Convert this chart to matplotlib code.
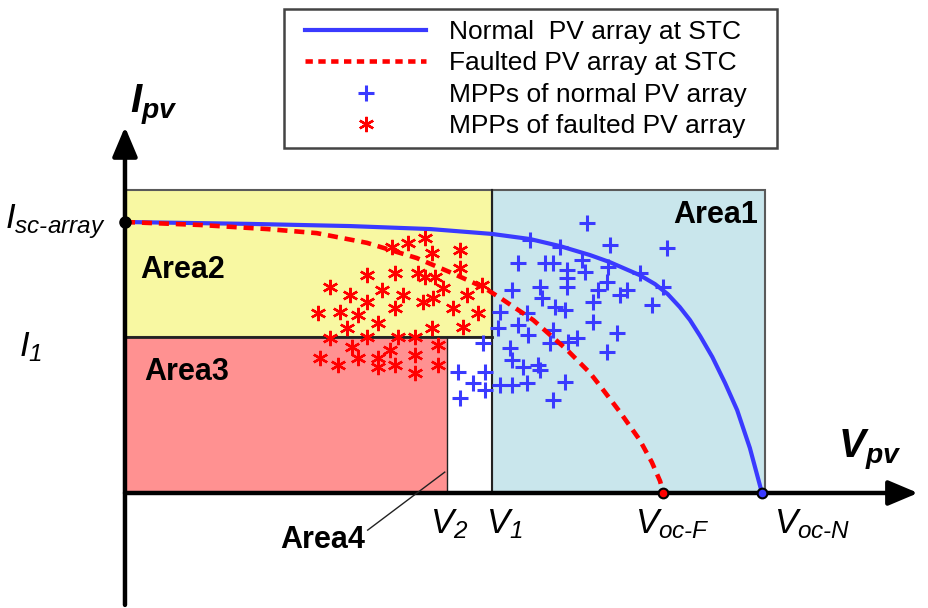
import matplotlib
matplotlib.use('Agg')
import matplotlib.pyplot as plt
from matplotlib.patches import Rectangle
from matplotlib.lines import Line2D

plt.rcParams['font.family'] = ['Liberation Sans', 'DejaVu Sans']
plt.rcParams['mathtext.fontset'] = 'custom'
plt.rcParams['mathtext.rm'] = 'Liberation Sans:italic'
plt.rcParams['mathtext.it'] = 'Liberation Sans:italic'
plt.rcParams['mathtext.bf'] = 'Liberation Sans:bold:italic'

# schematic units: V in % of Voc-N, I in % of Isc-array
v_normal = [0, 19.6, 35.3, 47.9, 57.6, 63.6, 68.3, 73.0, 76.1, 80.8, 83.2, 85.2, 87.1, 88.7,
            90.3, 92.2, 94.2, 96.1, 98.1, 100]
i_normal = [100, 99.3, 98.5, 97.4, 95.6, 93.7, 91.1, 87.8, 85.2, 80.4, 77.1, 73.4, 68.6, 63.8,
            57.9, 50.2, 40.6, 30.6, 16.6, 0]

v_fault = [0, 11.8, 22.3, 30.1, 38.0, 45.8, 51.0, 56.2, 58.9, 64.1, 69.4, 73.0, 74.6, 77.7,
           80.8, 82.7, 84.0, 84.5]
i_fault = [100, 98.9, 97.4, 95.9, 92.3, 86.7, 81.5, 76.0, 72.0, 63.8, 52.8, 44.3, 39.5, 29.9,
           19.6, 11.4, 4.4, 0]

mpp_normal = [(63.6, 93.4), (68.3, 90.8), (61.7, 84.9), (65.9, 84.9), (67.2, 84.9), (69.4, 82.3),
              (69.4, 79.3), (69.4, 76.0), (60.8, 74.9), (65.1, 76.0), (65.5, 72.0), (67.5, 68.6),
              (69.1, 67.5), (58.9, 66.8), (63.1, 66.4), (58.6, 60.9), (61.7, 62.0), (63.3, 58.3),
              (67.2, 60.1), (66.7, 55.4), (71.0, 57.2), (56.2, 55.4), (60.4, 53.5), (52.3, 44.6),
              (56.5, 44.6), (60.8, 49.1), (62.5, 46.5), (64.8, 47.2), (65.1, 45.4), (54.6, 40.6),
              (56.5, 38.0), (58.9, 39.9), (60.8, 39.9), (63.1, 40.6), (69.1, 41.0), (52.6, 35.1),
              (67.2, 34.3), (72.5, 99.6), (76.1, 91.5), (85.1, 90.4), (71.7, 86.0), (75.8, 83.4),
              (80.8, 81.2), (72.2, 81.5), (75.7, 77.9), (74.3, 74.9), (78.8, 74.9), (77.7, 73.1),
              (84.5, 76.0), (82.7, 69.4), (73.5, 70.5), (73.5, 63.1), (77.2, 59.0), (69.5, 55.7),
              (75.7, 52.0)]

mpp_fault = [(47.1, 94.1), (44.4, 92.3), (41.9, 90.8), (52.6, 89.7), (48.2, 88.6), (38.0, 80.4),
             (42.4, 81.2), (46.0, 81.2), (47.1, 79.7), (48.7, 79.7), (52.6, 83.0), (32.2, 76.0),
             (35.3, 73.1), (40.3, 74.9), (43.6, 73.1), (49.9, 75.6), (56.0, 76.8), (53.7, 73.1),
             (38.0, 70.5), (42.4, 68.3), (46.8, 70.5), (48.4, 72.0), (30.3, 66.4), (33.8, 66.8),
             (36.6, 65.7), (51.5, 68.3), (55.4, 66.4), (34.9, 60.9), (39.7, 62.7), (48.2, 60.9),
             (53.1, 61.3), (32.2, 57.2), (38.0, 57.6), (42.9, 57.6), (45.5, 57.6), (35.6, 53.9),
             (41.6, 52.8), (49.1, 54.6), (30.6, 49.8), (33.4, 47.2), (36.6, 49.8), (39.7, 49.8),
             (39.7, 46.5), (42.4, 47.2), (45.5, 50.9), (45.5, 44.3), (49.1, 47.2)]

isc = 100
i1 = 57.6
v1 = 57.6
v2 = 50.5
voc_f = 84.5
voc_n = 100
area_top = 111.8
area_right = 100.5

legend_labels = ['Normal  PV array at STC', 'Faulted PV array at STC',
                 'MPPs of normal PV array', 'MPPs of faulted PV array']

blue = '#3a3aff'
red = '#ff0000'

fig = plt.figure(figsize=(9.29, 6.08), dpi=100)
ax = fig.add_axes([0, 0, 1, 1])
ax.set_xlim(-19.62, 126.22)
ax.set_ylim(-42.44, 181.92)
ax.axis('off')

# areas
ax.add_patch(Rectangle((v1, 0), area_right - v1, area_top, facecolor='#c9e6ec',
                       edgecolor='#5a5a5a', lw=1.5, zorder=1))
ax.add_patch(Rectangle((0, i1), v1, area_top - i1, facecolor='#f8f8a2',
                       edgecolor='#5a5a5a', lw=1.5, zorder=1))
ax.add_patch(Rectangle((0, 0), v2, i1, facecolor='#ff9191', edgecolor='none', zorder=1))
ax.add_patch(Rectangle((v2, 0), v1 - v2, i1, facecolor='white', edgecolor='none', zorder=1))
ax.plot([0, v1], [i1, i1], color='#222222', lw=2, zorder=2)
ax.plot([v1, v1], [0, area_top], color='#222222', lw=1.5, zorder=2)
ax.plot([v2, v2], [0, i1], color='#222222', lw=1, zorder=2)

# axes with arrows
arrow_kw = dict(arrowstyle='-|>,head_length=0.9,head_width=0.38', lw=3.2, color='black',
                mutation_scale=20, shrinkA=0, shrinkB=0)
ax.annotate('', xy=(0, 135.1), xytext=(0, -41.3), arrowprops=arrow_kw, zorder=5)
ax.annotate('', xy=(124.5, 0), xytext=(0, 0), arrowprops=arrow_kw, zorder=5)

# curves
ax.plot(v_normal, i_normal, color=blue, lw=3, zorder=4, solid_capstyle='round',
        solid_joinstyle='round')
ax.plot(v_fault, i_fault, color=red, lw=3.3, dashes=(2.2, 1.5), zorder=4)

# MPP scatter
ax.plot([p[0] for p in mpp_normal], [p[1] for p in mpp_normal], ls='none', marker='+',
        ms=11, mew=2.2, color=blue, zorder=3)
ax.plot([p[0] for p in mpp_fault], [p[1] for p in mpp_fault], ls='none', marker=(6, 2, 0),
        ms=11, mew=1.7, color=red, zorder=3)

# key points
ax.plot([0], [isc], 'o', ms=8, color='black', zorder=6)
ax.plot([voc_f], [0], 'o', ms=7, mfc=red, mec='black', mew=1.5, zorder=6)
ax.plot([voc_n], [0], 'o', ms=7, mfc=blue, mec='black', mew=1.5, zorder=6)

# axis labels
ax.text(0.8, 143.5, r'$\mathbf{I_{pv}}$', fontsize=29, ha='left', va='center')
ax.text(111.9, 16.0, r'$\mathbf{V_{pv}}$', fontsize=29, ha='left', va='center')
ax.text(-3.0, 100, r'$I_{sc\text{-}array}$', fontsize=25, ha='right', va='center')
ax.text(-14.9, 54.0, r'$I_1$', fontsize=25, ha='center', va='center')
ax.text(47.9, -11.5, r'$V_2$', fontsize=25, ha='left', va='center')
ax.text(56.6, -11.5, r'$V_1$', fontsize=25, ha='left', va='center')
ax.text(86.0, -11.5, r'$V_{oc\text{-}F}$', fontsize=25, ha='center', va='center')
ax.text(107.9, -11.5, r'$V_{oc\text{-}N}$', fontsize=25, ha='center', va='center')

# area labels
ax.text(86.0, 102.6, 'Area1', fontsize=22, fontweight='bold', ha='left', va='center', zorder=6)
ax.text(2.4, 82.3, 'Area2', fontsize=22, fontweight='bold', ha='left', va='center', zorder=6)
ax.text(3.1, 44.6, 'Area3', fontsize=22, fontweight='bold', ha='left', va='center', zorder=6)
ax.text(31.1, -17.3, 'Area4', fontsize=22, fontweight='bold', ha='center', va='center')
ax.plot([38.1, 50.2], [-13.7, 7.7], color='#222222', lw=1, zorder=6)

# legend (frame drawn separately so the padding matches)
ax.add_patch(Rectangle((284 / 929, 1 - 148 / 608), 493 / 929, 139 / 608,
                       transform=fig.transFigure, facecolor='white',
                       edgecolor='#444444', lw=1.8, zorder=7))
handles = [Line2D([], [], color=blue, lw=3),
           Line2D([], [], color=red, lw=3.3, dashes=(1.6, 1.2)),
           Line2D([], [], ls='none', marker='+', ms=11, mew=2.2, color=blue),
           Line2D([], [], ls='none', marker=(6, 2, 0), ms=11, mew=1.7, color=red)]
leg = ax.legend(handles, legend_labels, loc='upper left', bbox_to_anchor=(305 / 929, 1 - 20 / 608),
                bbox_transform=fig.transFigure, fontsize=19, frameon=False, borderaxespad=0,
                borderpad=0, labelspacing=0.28, handlelength=4.6, handletextpad=0.85)
leg.set_zorder(8)

fig.savefig('out.png', dpi=100)
